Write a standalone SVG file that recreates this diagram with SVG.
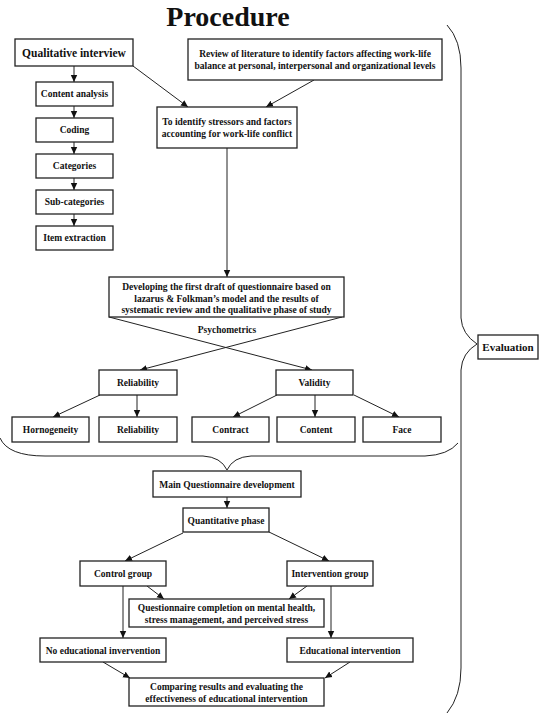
<svg xmlns="http://www.w3.org/2000/svg" width="544" height="715" viewBox="0 0 544 715">
<defs>
<marker id="ah" markerWidth="8" markerHeight="8" refX="7" refY="4" orient="auto" markerUnits="userSpaceOnUse">
<path d="M0,0.8 L7,4 L0,7.2 Z" fill="#111"/>
</marker>
<style>
.b{fill:#fff;stroke:#222;stroke-width:1.3}
.t{font-family:"Liberation Serif","Times New Roman",serif;font-weight:bold;font-size:9.5px;fill:#111;text-anchor:middle}
.c{fill:none;stroke:#222;stroke-width:1}
.a{fill:none;stroke:#222;stroke-width:1;marker-end:url(#ah)}
</style>
</defs>
<rect width="544" height="715" fill="#fff"/>
<text x="228" y="26" style="font-family:'Liberation Serif','Times New Roman',serif;font-weight:bold;font-size:28px;text-anchor:middle;fill:#111">Procedure</text>

<g id="connectors">
<line class="a" x1="74" y1="66" x2="74" y2="82"/>
<line class="a" x1="74" y1="106" x2="74" y2="118"/>
<line class="a" x1="74" y1="142" x2="74" y2="154"/>
<line class="a" x1="74" y1="178" x2="74" y2="190"/>
<line class="a" x1="74" y1="214" x2="74" y2="226"/>
<line class="a" x1="133" y1="66" x2="188" y2="107"/>
<line class="a" x1="314" y1="80" x2="266" y2="107"/>
<line class="a" x1="227" y1="148" x2="227" y2="277"/>
<line class="a" x1="109" y1="317" x2="312" y2="370"/>
<line class="a" x1="342" y1="317" x2="140" y2="370"/>
<line class="a" x1="100" y1="395" x2="53" y2="417"/>
<line class="a" x1="137" y1="395" x2="137" y2="417"/>
<line class="a" x1="277" y1="395" x2="233" y2="417"/>
<line class="a" x1="315" y1="395" x2="315" y2="417"/>
<line class="a" x1="354" y1="395" x2="399" y2="417"/>
<path class="c" d="M0,438 Q8,456 45,456 L203,456 Q221,457 227,470 Q233,457 251,456 L425,456 Q448,455 458,443"/>
<path class="c" d="M447,25 Q461,40 461,68 L461,318 Q462,334 477,344 Q462,353 461,370 L461,668 Q461,696 447,713"/>
<line class="a" x1="227" y1="497" x2="227" y2="508"/>
<line class="a" x1="183" y1="533" x2="125" y2="561"/>
<line class="a" x1="269" y1="532" x2="329" y2="561"/>
<line class="a" x1="147" y1="586" x2="164" y2="599"/>
<line class="a" x1="307" y1="586" x2="289" y2="599"/>
<line class="a" x1="123" y1="586" x2="123" y2="638"/>
<line class="a" x1="331" y1="586" x2="331" y2="638"/>
<line class="a" x1="103" y1="662" x2="130" y2="678"/>
<line class="a" x1="350" y1="662" x2="325" y2="678"/>
</g>

<g id="qualitative"><rect class="b" x="15" y="39" width="118" height="27"/><text class="t" x="74" y="56.5" style="font-size:11.5px">Qualitative interview</text></g>
<g id="review"><rect class="b" x="188" y="39" width="254" height="41"/><text class="t" x="315" y="57">Review of literature to identify factors affecting work-life</text><text class="t" x="315" y="69">balance at personal, interpersonal and organizational levels</text></g>
<g id="content-analysis"><rect class="b" x="36" y="82" width="77" height="24"/><text class="t" x="74.5" y="97">Content analysis</text></g>
<g id="coding"><rect class="b" x="36" y="118" width="77" height="24"/><text class="t" x="74.5" y="133">Coding</text></g>
<g id="categories"><rect class="b" x="36" y="154" width="77" height="24"/><text class="t" x="74.5" y="169">Categories</text></g>
<g id="sub-categories"><rect class="b" x="36" y="190" width="77" height="24"/><text class="t" x="74.5" y="205">Sub-categories</text></g>
<g id="item-extraction"><rect class="b" x="36" y="226" width="77" height="24"/><text class="t" x="74.5" y="241">Item extraction</text></g>
<g id="identify"><rect class="b" x="157" y="107" width="140" height="41"/><text class="t" x="227" y="125">To identify stressors and factors</text><text class="t" x="227" y="137">accounting for work-life conflict</text></g>
<g id="developing"><rect class="b" x="109" y="277" width="235" height="40"/><text class="t" x="226.5" y="290">Developing the first draft of questionnaire based on</text><text class="t" x="226.5" y="301.5">lazarus &amp; Folkman’s model and the results of</text><text class="t" x="226.5" y="313">systematic review and the qualitative phase of study</text></g>
<g id="psychometrics"><text class="t" x="227" y="333">Psychometrics</text></g>
<g id="reliability"><rect class="b" x="99" y="370" width="78" height="25"/><text class="t" x="138" y="385.5">Reliability</text></g>
<g id="validity"><rect class="b" x="276" y="370" width="77" height="25"/><text class="t" x="314.5" y="385.5">Validity</text></g>
<g id="homogeneity"><rect class="b" x="12" y="417" width="77" height="25"/><text class="t" x="50.5" y="433">Hornogeneity</text></g>
<g id="reliability2"><rect class="b" x="99" y="417" width="78" height="25"/><text class="t" x="138" y="433">Reliability</text></g>
<g id="contract"><rect class="b" x="192" y="417" width="77" height="25"/><text class="t" x="230.5" y="433">Contract</text></g>
<g id="content"><rect class="b" x="277" y="417" width="78" height="25"/><text class="t" x="316" y="433">Content</text></g>
<g id="face"><rect class="b" x="363" y="417" width="78" height="25"/><text class="t" x="402" y="433">Face</text></g>
<g id="evaluation"><rect class="b" x="478" y="335" width="60" height="24"/><text class="t" x="508" y="351" style="font-size:11px">Evaluation</text></g>
<g id="main-q"><rect class="b" x="153" y="471" width="148" height="26"/><text class="t" x="227" y="487.5">Main Questionnaire development</text></g>
<g id="quant"><rect class="b" x="183" y="508" width="86" height="24"/><text class="t" x="226" y="523.5">Quantitative phase</text></g>
<g id="control"><rect class="b" x="80" y="561" width="86" height="25"/><text class="t" x="123" y="577">Control group</text></g>
<g id="intervention"><rect class="b" x="287" y="561" width="86" height="25"/><text class="t" x="330" y="577">Intervention group</text></g>
<g id="questionnaire"><rect class="b" x="129" y="599" width="195" height="28"/><text class="t" x="226.5" y="611">Questionnaire completion on mental health,</text><text class="t" x="226.5" y="623">stress management, and perceived stress</text></g>
<g id="no-edu"><rect class="b" x="40" y="638" width="126" height="24"/><text class="t" x="103" y="653.5">No educational invervention</text></g>
<g id="edu"><rect class="b" x="287" y="638" width="126" height="24"/><text class="t" x="350" y="653.5">Educational intervention</text></g>
<g id="comparing"><rect class="b" x="129" y="678" width="195" height="28"/><text class="t" x="226.5" y="690">Comparing results and evaluating the</text><text class="t" x="226.5" y="702">effectiveness of educational intervention</text></g>
</svg>
